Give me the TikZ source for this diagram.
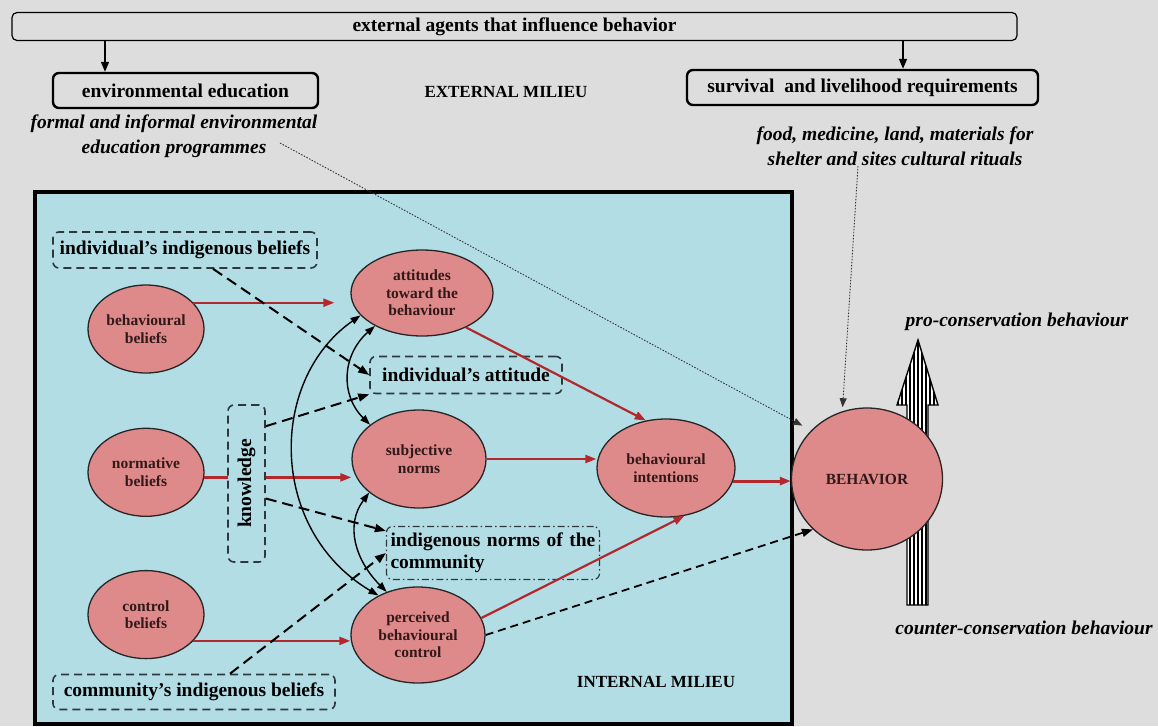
\documentclass[tikz,border=0pt]{standalone}
\usepackage{fontspec}
\setmainfont{Liberation Serif}
\usepackage{tikz}
\usetikzlibrary{shapes.geometric,arrows.meta,positioning}

\definecolor{bggray}{RGB}{221,221,221}
\definecolor{milieublue}{RGB}{178,221,229}
\definecolor{ovalpink}{RGB}{222,138,138}
\definecolor{ovaltext}{RGB}{50,25,25}
\definecolor{arrowred}{RGB}{178,40,45}
\definecolor{boxline}{RGB}{45,55,60}

\begin{document}
\begin{tikzpicture}[x=1pt,y=-1pt,
    main font/.style={font=\fontsize{19.5}{22}\selectfont\bfseries},
    milieu font/.style={font=\fontsize{17}{20}\selectfont\bfseries},
    oval node/.style={ellipse,draw=black!85,line width=1.3pt,fill=ovalpink,inner sep=0pt,align=center,
                      text=ovaltext,font=\fontsize{15.5}{17.5}\selectfont\bfseries},
    ext box/.style={draw,rounded corners=6pt,line width=2.4pt,main font},
    dash box/.style={draw=boxline,dash pattern=on 8pt off 5pt,line width=1.6pt,rounded corners=6pt,
                     fill=milieublue,inner sep=0pt,main font},
    note/.style={font=\fontsize{19.5}{24.5}\selectfont\bfseries\itshape,align=center},
    down arrow/.style={draw=black,line width=1.6pt,-{Triangle[length=10pt,width=8pt]}},
    red arrow/.style={draw=arrowred,line width=2.2pt,-{Triangle[length=11pt,width=8pt]}},
    dash arrow/.style={draw=black,line width=2pt,dash pattern=on 11pt off 6pt,-{Triangle[length=11pt,width=8pt]}},
    link arrow/.style={draw=black,line width=1.4pt,{Triangle[length=10pt,width=7pt]}-{Triangle[length=10pt,width=7pt]}},
    dot arrow/.style={draw=black!80,line width=0.9pt,dash pattern=on 1.5pt off 1.5pt,-{Triangle[length=9pt,width=7pt]}}]

  \fill[bggray] (0,0) rectangle (1158,726);
  \useasboundingbox (0,0) rectangle (1158,726);

  \node[ext box,line width=1.2pt,rounded corners=5pt,minimum width=1005pt,minimum height=28pt] (agents) at (514.5,26.5) {external agents that influence behavior};
  \node[ext box,minimum width=265pt,minimum height=35pt] (envedu) at (185.5,90.5) {environmental education};
  \node[ext box,minimum width=351pt,minimum height=35pt] (survival) at (862.5,87.5) {survival\ \ and livelihood requirements};
  \node[milieu font] (external) at (506,92) {EXTERNAL MILIEU};
  \node[note] (formal) at (174,136) {formal and informal environmental\\education programmes};
  \node[note] (food) at (895,146) {food, medicine, land, materials for\\shelter and sites cultural rituals};

  \coordinate (d1) at (105,0);
  \coordinate (d2) at (903,0);
  \draw[down arrow] (agents.south -| d1) -- (envedu.north -| d1);
  \draw[down arrow] (agents.south -| d2) -- (survival.north -| d2);

  \draw[line width=3.5pt,fill=milieublue] (35,192) rectangle (792,724);
  \node[milieu font] (internal) at (656,682) {INTERNAL MILIEU};

  \node[oval node,minimum width=116pt,minimum height=88pt] (bb) at (146,329) {behavioural\\beliefs};
  \node[oval node,minimum width=116pt,minimum height=88pt,below=54pt of bb] (nb) {normative\\beliefs};
  \node[oval node,minimum width=116pt,minimum height=88pt,below=53pt of nb] (cb) {control\\beliefs};
  \node[oval node,minimum width=142pt,minimum height=86pt] (att) at (422,293) {attitudes\\toward the\\behaviour};
  \node[oval node,minimum width=134pt,minimum height=98pt] (sn) at (419,459) {subjective\\norms};
  \node[oval node,minimum width=134pt,minimum height=96pt] (pbc) at (418,635) {perceived\\behavioural\\control};
  \node[oval node,minimum width=138pt,minimum height=98pt] (bi) at (666,468) {behavioural\\intentions};

  \path[every edge/.style={red arrow}]
  (nb.-5) edge (nb.-5 -| sn.west);

  \node[dash box,minimum width=264pt,minimum height=36pt] (iib) at (185,250) {individual's indigenous beliefs};
  \node[dash box,minimum width=192pt,minimum height=37pt] (ia) at (466,375) {individual's attitude};
  \node[dash box,minimum width=37pt,minimum height=157pt] (kn) at (246.5,483.5) {\rotatebox{90}{knowledge}};
  \node[dash box,dash pattern=on 7pt off 3pt on 1.5pt off 3pt,line width=1.2pt,minimum width=213pt,minimum height=53pt,
        text width=205pt,align=left,font=\fontsize{19.5}{22}\selectfont\bfseries] (inc) at (493,553) {indigenous norms of the\\community};
  \node[dash box,minimum width=282pt,minimum height=35pt] (cib) at (194,692) {community's indigenous beliefs};

  \begin{scope}
    \clip (907,605) -- (907,405) -- (897,405) -- (918,340) -- (938,405) -- (928,405) -- (928,605) -- cycle;
    \fill[white] (890,330) rectangle (945,610);
    \foreach \sx in {898,902,...,938}
      \draw[line width=1.2pt] (\sx,330) -- (\sx,610);
  \end{scope}
  \draw[line width=1.4pt] (907,605) -- (907,405) -- (897,405) -- (918,340) -- (938,405) -- (928,405) -- (928,605) -- cycle;
  \node[ellipse,draw=black!85,line width=1.3pt,fill=ovalpink,minimum width=151pt,minimum height=142pt,
        text=ovaltext,font=\fontsize{15.5}{17.5}\selectfont\bfseries] (beh) at (867,479) {BEHAVIOR};

  \node[note] (pro) at (1017,322) {pro-conservation behaviour};
  \node[note] (counter) at (1024,628) {counter-conservation behaviour};

  \path[every edge/.style={red arrow}]
  (bb.29)  edge[shorten >=16pt] (bb.29 -| att.west)
  (cb.-29) edge (cb.-29 -| pbc.west)
  (att.-38) edge (bi.113)
  (sn.east) edge (sn.east -| bi.west)
  (pbc.15) edge (bi.-69)
  (bi.-11) edge[line width=3pt] (bi.-11 -| beh.west);

  \path[every edge/.style={dash arrow}]
  ([xshift=28pt]iib.south) edge (ia.west)
  ([yshift=-22pt]kn.north east) edge (ia.south west)
  ([yshift=-15pt]kn.east) edge ([yshift=-5pt]inc.north west)
  ([xshift=36pt]cib.north) edge (inc.west)
  (pbc.east) edge[line width=1.8pt,dash pattern=on 8pt off 5pt] (beh.223);

  \draw[link arrow] (att.200) .. controls (268,380) and (268,530) .. (pbc.135);
  \draw[link arrow] (att.215) .. controls (342,355) and (340,395) .. (sn.145);
  \draw[link arrow] (sn.214) .. controls (345,525) and (355,560) .. (pbc.126);

  \coordinate (p1) at (280,143);
  \coordinate (p2) at (858,166);
  \draw[dot arrow,shorten >=10pt] (p1) -- (beh.139);
  \draw[dot arrow,shorten >=4pt] (p2) -- (beh.110);

\end{tikzpicture}
\end{document}
